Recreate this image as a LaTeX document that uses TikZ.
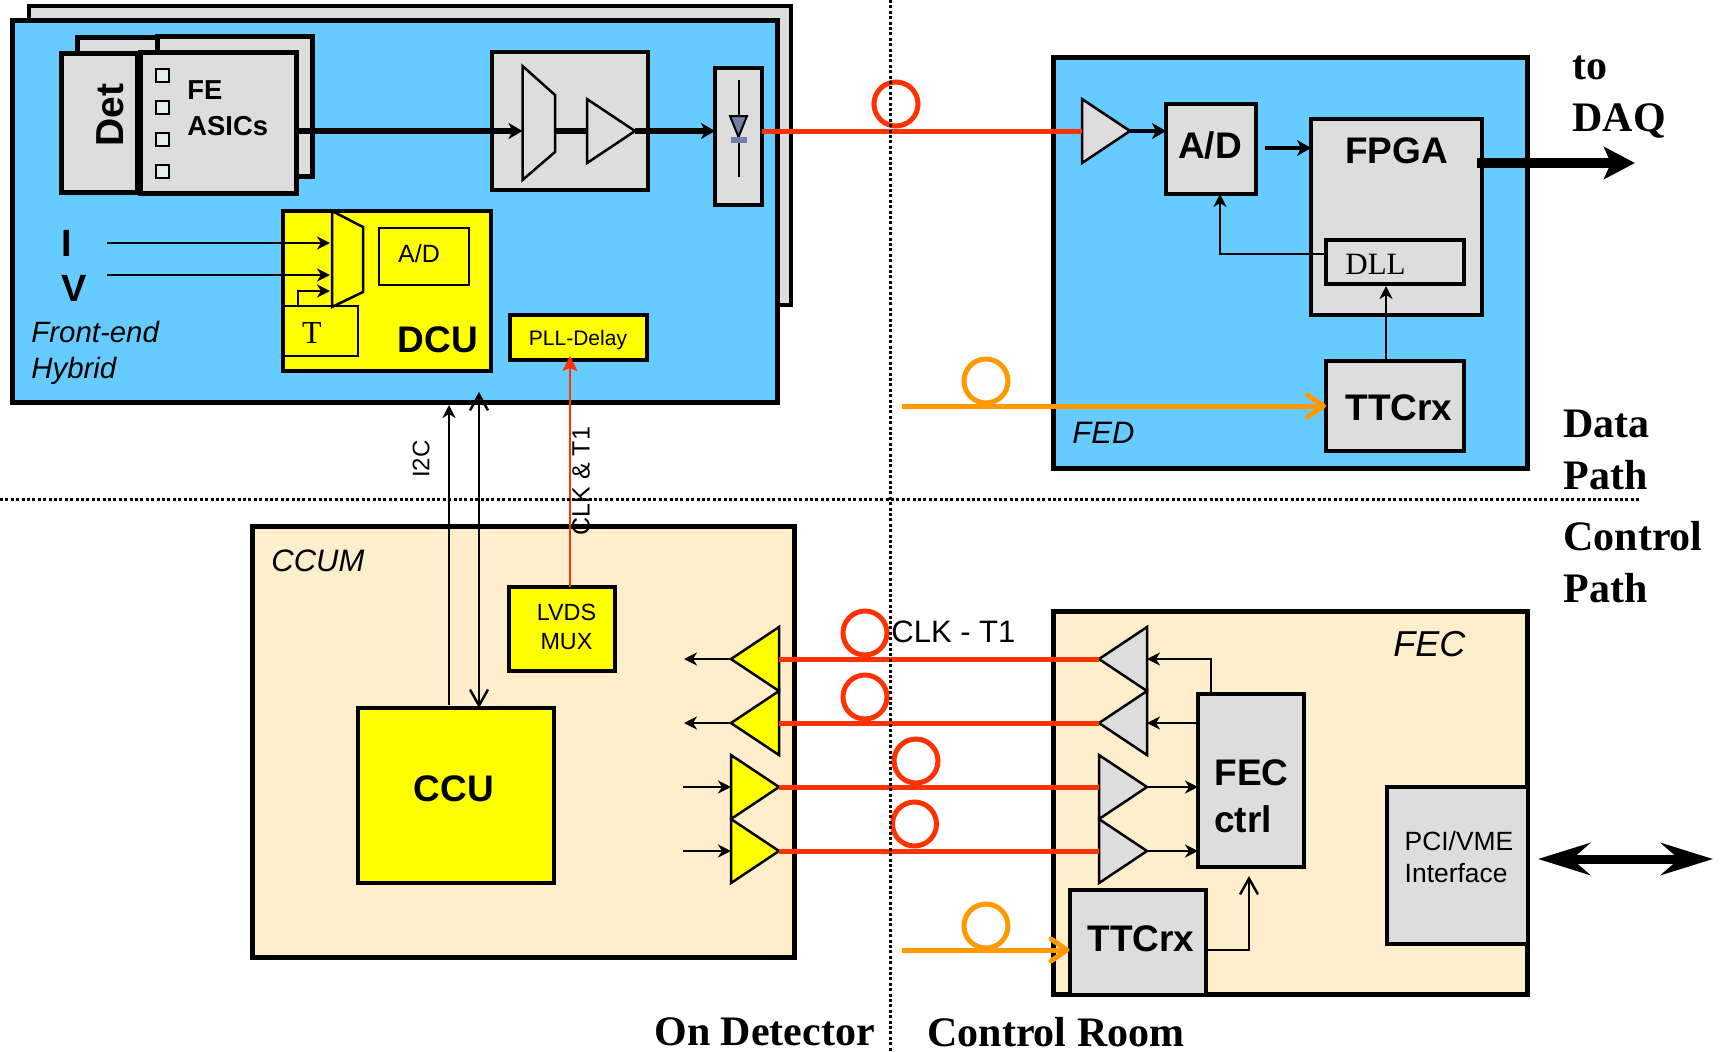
\documentclass[tikz,border=0pt]{standalone}
\usepackage{fontspec}
\setmainfont{Liberation Serif}
\setsansfont{Liberation Sans}
\usetikzlibrary{arrows.meta,shapes.geometric}
\definecolor{hybridblue}{HTML}{66CCFF}
\definecolor{boxgray}{HTML}{DDDDDD}
\definecolor{creamfill}{HTML}{FEEECB}
\definecolor{chipyellow}{HTML}{FFFF00}
\definecolor{fibrered}{HTML}{FF3300}
\definecolor{fibreorange}{HTML}{FF9900}
\definecolor{diodeblue}{HTML}{7080A8}
\definecolor{padfill}{HTML}{E0ECF2}
\begin{document}
\begin{tikzpicture}[x=0.5pt, y=-0.5pt,
    box/.style={rectangle, draw, line width=2pt, inner sep=0pt, outer sep=0pt},
    graybox/.style={box, fill=boxgray},
    yellowbox/.style={box, fill=chipyellow},
    pad/.style={box, line width=1pt, fill=padfill, minimum size=6.5pt},
    amp/.style={isosceles triangle, isosceles triangle stretches, draw, line width=1.25pt,
        inner sep=0pt, outer sep=0pt, minimum height=24pt, minimum width=32pt, anchor=lower side},
    ring/.style={circle, draw, line width=2.5pt, inner sep=0pt, outer sep=0pt, minimum size=22pt},
    sftext/.style={font=\sffamily\fontsize{12.5}{15}\selectfont, inner sep=0pt, align=center},
    sfbold/.style={font=\sffamily\bfseries\fontsize{18.5}{21}\selectfont, inner sep=0pt, align=left},
    sfital/.style={font=\sffamily\itshape\fontsize{15.5}{17}\selectfont, inner sep=0pt, align=left},
    sidetext/.style={font=\bfseries\fontsize{21}{25}\selectfont, inner sep=0pt, align=left},
    thin arrow/.style={line width=1.2pt, -{Stealth[length=6.5pt, width=6.5pt, inset=2pt]}},
    open arrow/.style={line width=1.2pt, -{Straight Barb[length=8pt, width=9pt]}},
    signal/.style={line width=2.6pt},
    signal arrow/.style={signal, -{Stealth[length=7pt, width=8pt, inset=2pt]}},
    fibre/.style={line width=2.5pt, draw=fibrered},
    orange fibre/.style={line width=2.5pt, draw=fibreorange, -{Straight Barb[round, length=8pt, width=11pt]}},
    fat arrow/.style={line width=5pt}]

    % canvas
    \useasboundingbox (0,0) rectangle (1721,1051);

    % front-end hybrid
    \node[graybox, minimum width=381pt, minimum height=149.5pt] (backsheet) at (410,155) {};
    \node[box, line width=2.5pt, fill=hybridblue, minimum width=382.5pt, minimum height=191pt] (hybrid) at (395,211.5) {};
    \node[graybox, line width=2.5pt, minimum width=40pt, minimum height=40pt] (detback) at (117.5,77.5) {};
    \node[graybox, line width=2.5pt, minimum width=77.5pt, minimum height=70pt] (asicback) at (235,106.5) {};
    \node[graybox, line width=2.5pt, minimum width=38pt, minimum height=69.5pt] (det) at (99.5,123) {};
    \node[graybox, line width=2.5pt, minimum width=78pt, minimum height=70.5pt] (asic) at (218.5,123) {};
    \node[pad] (pada) at (162.7,75) {};
    \node[pad] (padb) at (162.7,107) {};
    \node[pad] (padc) at (162.7,139) {};
    \node[pad] (padd) at (162.7,171) {};
    \node[sfbold, font=\sffamily\bfseries\fontsize{19.5}{21}\selectfont, rotate=90] (detlabel) at (110,115) {Det};
    \node[sfbold, font=\sffamily\bfseries\fontsize{13.7}{18}\selectfont, anchor=north west] (asiclabel) at (187,80) {FE\\ASICs};

    \node[graybox, minimum width=78pt, minimum height=69pt] (muxbox) at (569.5,120.5) {};
    \draw[fill=boxgray, line width=1.25pt] (522.5,66) -- (555,95) -- (555,152) -- (522.5,180) -- cycle;
    \coordinate (muxin) at (522.5,131);
    \coordinate (muxout) at (555,131);
    \node[amp, fill=boxgray, minimum width=32pt] (muxamp) at (587,131) {};
    \node[graybox, minimum width=23.5pt, minimum height=68.5pt] (laser) at (738.5,136.5) {};
    \draw[line width=1pt] (laser.center |- 0,80) -- (laser.center |- 0,177);
    \draw[fill=diodeblue, line width=1pt] (730,116) -- (747,116) -- (738.5,137) -- cycle;
    \fill[diodeblue] (731,137) rectangle (747,143);
    \draw[signal arrow] (asic.east |- muxin) -- (muxin);
    \draw[signal] (muxout) -- (muxamp.lower side);
    \draw[signal arrow] (muxamp.apex) -- (laser.west |- muxin);

    % dcu
    \node[yellowbox, minimum width=104pt, minimum height=80pt] (dcu) at (387,291) {};
    \node[box, line width=1.25pt, minimum width=45pt, minimum height=28.5pt] (dcuadc) at (424,256.5) {};
    \node[box, line width=1.25pt, minimum width=38pt, minimum height=25pt] (temp) at (320,331) {};
    \draw[line width=1.25pt] (332,211) -- (363,227) -- (363,292) -- (332,307) -- cycle;
    \coordinate (iin) at (107,243);
    \coordinate (vin) at (107,275);
    \coordinate (muxi) at (330,243);
    \coordinate (muxv) at (330,275);
    \coordinate (muxt) at (330,291);
    \draw[thin arrow, line width=1.25pt] (iin) -- (muxi);
    \draw[thin arrow, line width=1.25pt] (vin) -- (muxv);
    \draw[thin arrow, line width=1.25pt] (temp.north -| 298,0) |- (muxt);
    \node[sftext] (adclabel) at (419,254) {A/D};
    \node[inner sep=0pt, font=\fontsize{16}{18}\selectfont] (templabel) at (312,333) {T};
    \node[sfbold] (dculabel) at (438,340) {DCU};
    \node[sfbold, font=\sffamily\bfseries\fontsize{19}{21}\selectfont] (ilabel) at (67,243) {I};
    \node[sfbold, font=\sffamily\bfseries\fontsize{19}{21}\selectfont] (vlabel) at (74,288) {V};
    \node[sfital, font=\sffamily\itshape\fontsize{14.7}{18}\selectfont, anchor=west] (hybridlabel) at (31,353) {Front-end\\Hybrid};
    \node[yellowbox, minimum width=68.5pt, minimum height=22.5pt] (pll) at (578.5,337.5) {};
    \node[sftext, font=\sffamily\fontsize{10.5}{13}\selectfont] (plllabel) at (578,340) {PLL-Delay};

    % fed
    \node[box, line width=2.5pt, fill=hybridblue, minimum width=237pt, minimum height=205.5pt] (fed) at (1290.5,263) {};
    \node[amp, fill=boxgray] (fedamp) at (1082,131) {};
    \node[graybox, minimum width=45pt, minimum height=45pt] (fedadc) at (1211,149) {};
    \node[sfbold] (fedadclabel) at (1210,145) {A/D};
    \node[graybox, minimum width=85.5pt, minimum height=98pt] (fpga) at (1396.5,217) {};
    \node[sfbold] (fpgalabel) at (1396.5,151) {FPGA};
    \node[box, line width=1.75pt, minimum width=69pt, minimum height=22pt] (dll) at (1395,262) {};
    \node[inner sep=0pt, anchor=west, font=\fontsize{15.5}{18}\selectfont] (dlllabel) at (1345,264) {DLL};
    \node[graybox, minimum width=69pt, minimum height=45pt] (fedttc) at (1395,406) {};
    \node[sfbold] (fedttclabel) at (1399,408) {TTCrx};
    \node[sfital, anchor=west] (fedlabel) at (1072,433) {FED};
    \coordinate (fedadcout) at (1265,148);
    \coordinate (dllout) at (1220,254);
    \coordinate (dllin) at (1386,286);
    \draw[line width=2pt, -{Stealth[length=7pt, width=8pt, inset=2pt]}] (fedamp.apex) -- (fedadc.west |- fedamp.apex);
    \draw[line width=2pt, -{Stealth[length=7pt, width=8pt, inset=2pt]}] (fedadcout) -- (fpga.west |- fedadcout);
    \draw[thin arrow, line width=1.25pt] (dll.west |- dllout) -| (fedadc.south -| dllout);
    \draw[thin arrow, line width=1.25pt] (dllin |- fedttc.north) -- (dllin);
    \coordinate (daqout) at (1477,163);
    \coordinate (daqend) at (1635,163);
    \draw[fat arrow, -{Stealth[length=15.5pt, width=16pt, inset=3.5pt]}] (daqout) -- (daqend);
    \node[sidetext, anchor=north west] (daqlabel) at (1572,55) {to\\[1pt]DAQ};

    % ccum
    \node[box, line width=2.5pt, fill=creamfill, minimum width=271pt, minimum height=215.5pt] (ccum) at (523.5,742) {};
    \node[sfital, anchor=west] (ccumlabel) at (271,561) {CCUM};
    \node[yellowbox, minimum width=52.75pt, minimum height=41.75pt] (lvds) at (562,629) {};
    \node[sftext, font=\sffamily\fontsize{11.7}{14.5}\selectfont] (lvdslabel) at (566.5,627) {LVDS\\MUX};
    \node[yellowbox, minimum width=98pt, minimum height=87.5pt] (ccu) at (456,795.5) {};
    \node[sfbold] (ccuLabel) at (454,789) {CCU};
    \node[amp, fill=chipyellow, shape border rotate=180] (ccumrxa) at (779,659) {};
    \node[amp, fill=chipyellow, shape border rotate=180] (ccumrxb) at (779,723) {};
    \node[amp, fill=chipyellow] (ccumtxa) at (731,787) {};
    \node[amp, fill=chipyellow] (ccumtxb) at (731,851) {};
    \coordinate (ccumouta) at (684,659);
    \coordinate (ccumoutb) at (684,723);
    \coordinate (ccumina) at (683,787);
    \coordinate (ccuminb) at (683,851);
    \draw[thin arrow] (ccumrxa.apex) -- (ccumouta);
    \draw[thin arrow] (ccumrxb.apex) -- (ccumoutb);
    \draw[thin arrow] (ccumina) -- (ccumtxa.lower side);
    \draw[thin arrow] (ccuminb) -- (ccumtxb.lower side);

    % fec
    \node[box, line width=2.5pt, fill=creamfill, minimum width=237pt, minimum height=191.5pt] (fec) at (1290.5,803) {};
    \node[sfital, font=\sffamily\itshape\fontsize{18}{20}\selectfont, anchor=west] (feclabel) at (1393,644) {FEC};
    \node[graybox, minimum width=53pt, minimum height=86.5pt] (fecctrl) at (1251,780.5) {};
    \node[sfbold, anchor=north west] (fecctrllabel) at (1214,759) {FEC\\[2.5pt]ctrl};
    \node[graybox, minimum width=68.25pt, minimum height=52.5pt] (fecttc) at (1137.75,942.5) {};
    \node[sfbold] (fecttclabel) at (1141,939) {TTCrx};
    \node[graybox, minimum width=70.5pt, minimum height=78.5pt] (pci) at (1457.5,865.5) {};
    \node[sftext, font=\sffamily\fontsize{13.2}{16}\selectfont, align=left] (pcilabel) at (1459,857) {PCI/VME\\Interface};
    \node[amp, fill=boxgray, shape border rotate=180] (fectxa) at (1147,659) {};
    \node[amp, fill=boxgray, shape border rotate=180] (fectxb) at (1147,723) {};
    \node[amp, fill=boxgray] (fecrxa) at (1099,787) {};
    \node[amp, fill=boxgray] (fecrxb) at (1099,851) {};
    \coordinate (ctrlup) at (1211,692);
    \coordinate (ttcout) at (1208,950);
    \coordinate (ctrlin) at (1249,876);
    \draw[thin arrow] (ctrlup) |- (fectxa.lower side);
    \draw[thin arrow] (fecctrl.west |- fectxb.lower side) -- (fectxb.lower side);
    \draw[thin arrow] (fecrxa.apex) -- (fecctrl.west |- fecrxa.apex);
    \draw[thin arrow] (fecrxb.apex) -- (fecctrl.west |- fecrxb.apex);
    \draw[open arrow] (ttcout) -| (ctrlin);
    \coordinate (pcileft) at (1538,859);
    \coordinate (pciright) at (1713,859);
    \draw[fat arrow, line width=4.5pt, {Stealth[length=26pt, width=16pt, inset=9pt]}-{Stealth[length=26pt, width=16pt, inset=9pt]}] (pcileft) -- (pciright);

    % hybrid to ccum
    \coordinate (ccuout) at (449,705);
    \coordinate (i2ctop) at (449,405);
    \coordinate (ccutop) at (479,392);
    \coordinate (clkin) at (570,356);
    \draw[thin arrow] (ccuout) -- (i2ctop);
    \draw[open arrow, {Straight Barb[length=8pt, width=9pt]}-{Straight Barb[length=8pt, width=9pt]}] (ccutop) -- (ccu.north -| ccutop);
    \draw[fibre, line width=1.2pt, -{Stealth[length=7.5pt, width=7.5pt, inset=1.5pt]}, fibrered] (clkin |- lvds.north) -- (clkin);
    \node[sftext, rotate=90, font=\sffamily\fontsize{12}{14}\selectfont] (i2clabel) at (421,459) {I2C};
    \node[sftext, rotate=90] (clklabel) at (581,481) {CLK \& T1};

    % fibres
    \draw[fibre] (laser.east |- muxin) -- (fedamp.lower side);
    \draw[fibre] (ccumrxa.lower side) -- (fectxa.apex);
    \draw[fibre] (ccumrxb.lower side) -- (fectxb.apex);
    \draw[fibre] (ccumtxa.apex) -- (fecrxa.lower side);
    \draw[fibre] (ccumtxb.apex) -- (fecrxb.lower side);
    \node[ring, draw=fibrered] (ringtop) at (896,104) {};
    \node[ring, draw=fibrered] (ringa) at (865,633) {};
    \node[ring, draw=fibrered] (ringb) at (865,697) {};
    \node[ring, draw=fibrered] (ringc) at (916,761) {};
    \node[ring, draw=fibrered] (ringd) at (914.5,824) {};
    \coordinate (ttcfibre) at (902,406);
    \coordinate (fecfibre) at (902,950);
    \draw[orange fibre] (ttcfibre) -- (fedttc.west |- ttcfibre);
    \draw[orange fibre] (fecfibre) -- (fecttc.west |- fecfibre);
    \node[ring, draw=fibreorange] (ringfed) at (986,381) {};
    \node[ring, draw=fibreorange] (ringfec) at (986,926) {};
    \node[sftext, font=\sffamily\fontsize{15.5}{18}\selectfont, anchor=west] (clkt) at (891,632) {CLK - T1};

    % dotted borders
    \coordinate (vtop) at (890.5,0);
    \coordinate (vbottom) at (890.5,1051);
    \coordinate (hleft) at (0,499);
    \coordinate (hright) at (1640,499);
    \draw[line width=1.5pt, dash pattern=on 1.5pt off 1.2pt] (vtop) -- (vbottom);
    \draw[line width=1.5pt, dash pattern=on 1.5pt off 1.2pt] (hleft) -- (hright);

    % side labels
    \node[sidetext, anchor=north west] (datalabel) at (1563,410) {Data\\[1pt]Path};
    \node[sidetext, anchor=north west] (controllabel) at (1563,521) {Control\\[1pt]Path};
    \node[sidetext, anchor=west] (detectorlabel) at (654,1032) {On Detector};
    \node[sidetext, anchor=west] (roomlabel) at (927,1032) {Control Room};
\end{tikzpicture}
\end{document}
